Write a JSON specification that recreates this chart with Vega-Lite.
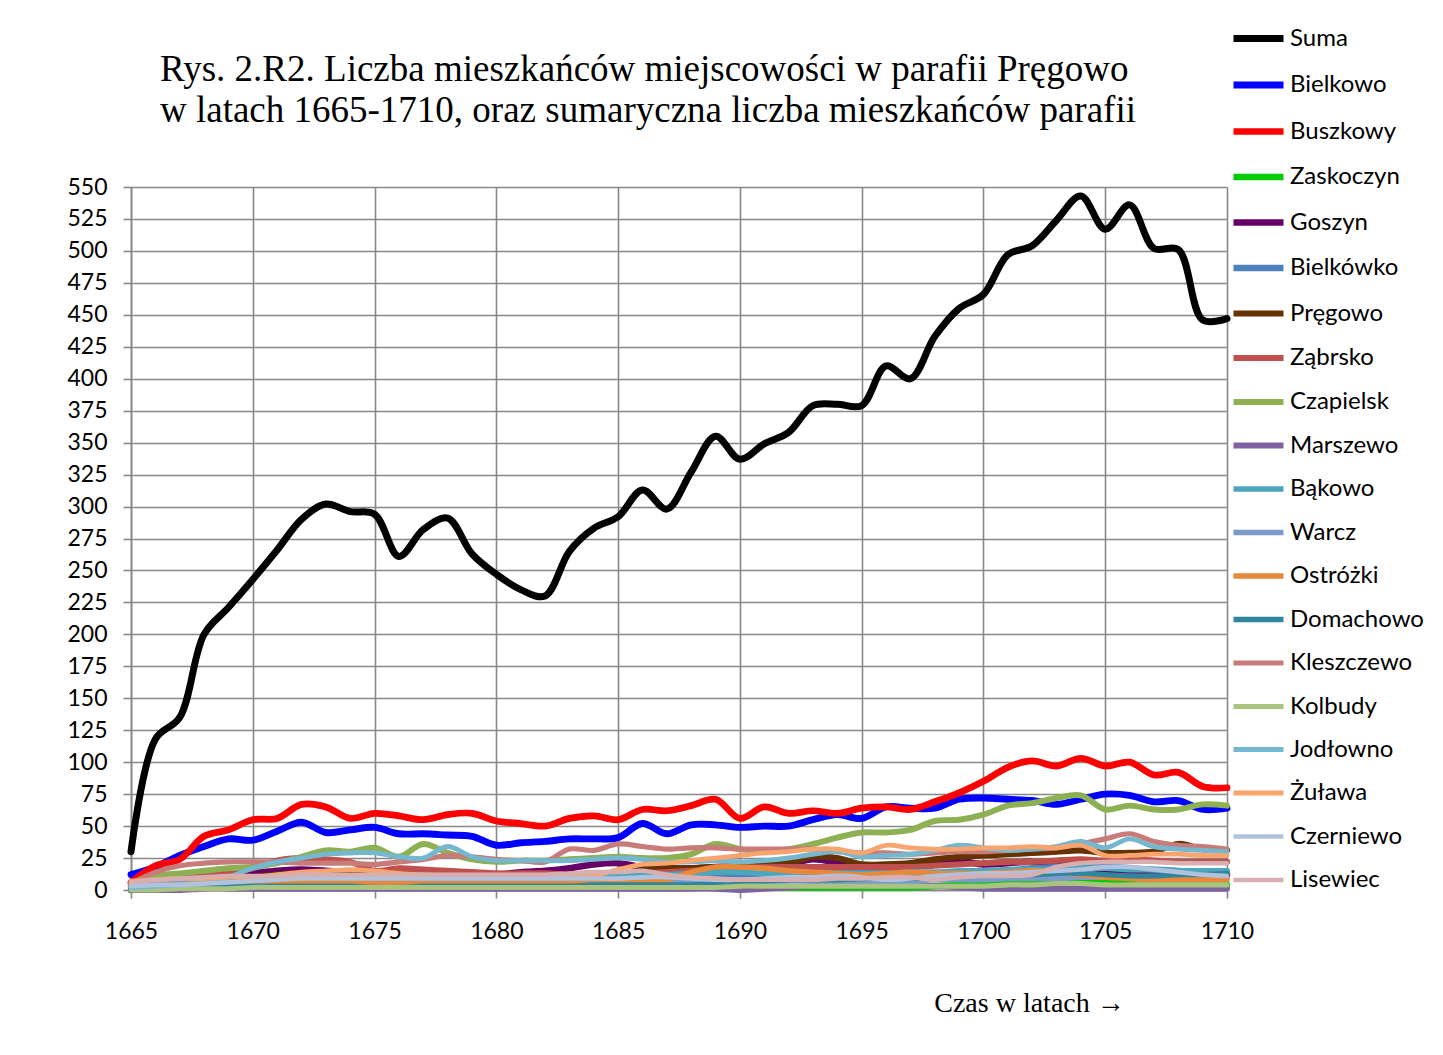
{"$schema":"https://vega.github.io/schema/vega-lite/v6.json","width":1096,"height":703,"autosize":{"type":"none"},"padding":{"left":131,"top":187,"right":216,"bottom":165},"background":"white",
"title":{"text":["Rys. 2.R2. Liczba mieszkańców miejscowości w parafii Pręgowo","w latach 1665-1710, oraz sumaryczna liczba mieszkańców parafii"],"anchor":"start","frame":"group","dx":29,"dy":201,"offset":52,"font":"Liberation Serif","fontSize":37,"fontWeight":"normal","color":"black","lineHeight":41,"baseline":"alphabetic"},
"datasets":{"d":[
{"r":1665,"s":"Suma","v":30},{"r":1666,"s":"Suma","v":118},{"r":1667,"s":"Suma","v":135},{"r":1668,"s":"Suma","v":200},{"r":1669,"s":"Suma","v":221},{"r":1670,"s":"Suma","v":243},{"r":1671,"s":"Suma","v":266},{"r":1672,"s":"Suma","v":290},{"r":1673,"s":"Suma","v":302},{"r":1674,"s":"Suma","v":296},{"r":1675,"s":"Suma","v":294},{"r":1676,"s":"Suma","v":261},{"r":1677,"s":"Suma","v":282},{"r":1678,"s":"Suma","v":291},{"r":1679,"s":"Suma","v":263},{"r":1680,"s":"Suma","v":247},{"r":1681,"s":"Suma","v":235},{"r":1682,"s":"Suma","v":230},{"r":1683,"s":"Suma","v":265},{"r":1684,"s":"Suma","v":283},{"r":1685,"s":"Suma","v":292},{"r":1686,"s":"Suma","v":313},{"r":1687,"s":"Suma","v":298},{"r":1688,"s":"Suma","v":327},{"r":1689,"s":"Suma","v":355},{"r":1690,"s":"Suma","v":337},{"r":1691,"s":"Suma","v":349},{"r":1692,"s":"Suma","v":358},{"r":1693,"s":"Suma","v":379},{"r":1694,"s":"Suma","v":380},{"r":1695,"s":"Suma","v":379},{"r":1696,"s":"Suma","v":410},{"r":1697,"s":"Suma","v":400},{"r":1698,"s":"Suma","v":433},{"r":1699,"s":"Suma","v":455},{"r":1700,"s":"Suma","v":466},{"r":1701,"s":"Suma","v":497},{"r":1702,"s":"Suma","v":504},{"r":1703,"s":"Suma","v":524},{"r":1704,"s":"Suma","v":543},{"r":1705,"s":"Suma","v":517},{"r":1706,"s":"Suma","v":536},{"r":1707,"s":"Suma","v":502},{"r":1708,"s":"Suma","v":501},{"r":1709,"s":"Suma","v":446},{"r":1710,"s":"Suma","v":447},
{"r":1665,"s":"Bielkowo","v":12},{"r":1666,"s":"Bielkowo","v":18},{"r":1667,"s":"Bielkowo","v":27},{"r":1668,"s":"Bielkowo","v":34},{"r":1669,"s":"Bielkowo","v":40},{"r":1670,"s":"Bielkowo","v":39},{"r":1671,"s":"Bielkowo","v":46},{"r":1672,"s":"Bielkowo","v":53},{"r":1673,"s":"Bielkowo","v":45},{"r":1674,"s":"Bielkowo","v":47},{"r":1675,"s":"Bielkowo","v":49},{"r":1676,"s":"Bielkowo","v":44},{"r":1677,"s":"Bielkowo","v":44},{"r":1678,"s":"Bielkowo","v":43},{"r":1679,"s":"Bielkowo","v":42},{"r":1680,"s":"Bielkowo","v":35},{"r":1681,"s":"Bielkowo","v":37},{"r":1682,"s":"Bielkowo","v":38},{"r":1683,"s":"Bielkowo","v":40},{"r":1684,"s":"Bielkowo","v":40},{"r":1685,"s":"Bielkowo","v":41},{"r":1686,"s":"Bielkowo","v":52},{"r":1687,"s":"Bielkowo","v":44},{"r":1688,"s":"Bielkowo","v":51},{"r":1689,"s":"Bielkowo","v":51},{"r":1690,"s":"Bielkowo","v":49},{"r":1691,"s":"Bielkowo","v":50},{"r":1692,"s":"Bielkowo","v":50},{"r":1693,"s":"Bielkowo","v":55},{"r":1694,"s":"Bielkowo","v":59},{"r":1695,"s":"Bielkowo","v":56},{"r":1696,"s":"Bielkowo","v":65},{"r":1697,"s":"Bielkowo","v":64},{"r":1698,"s":"Bielkowo","v":64},{"r":1699,"s":"Bielkowo","v":71},{"r":1700,"s":"Bielkowo","v":72},{"r":1701,"s":"Bielkowo","v":71},{"r":1702,"s":"Bielkowo","v":70},{"r":1703,"s":"Bielkowo","v":67},{"r":1704,"s":"Bielkowo","v":71},{"r":1705,"s":"Bielkowo","v":75},{"r":1706,"s":"Bielkowo","v":74},{"r":1707,"s":"Bielkowo","v":69},{"r":1708,"s":"Bielkowo","v":70},{"r":1709,"s":"Bielkowo","v":63},{"r":1710,"s":"Bielkowo","v":64},
{"r":1665,"s":"Buszkowy","v":6},{"r":1666,"s":"Buszkowy","v":19},{"r":1667,"s":"Buszkowy","v":24},{"r":1668,"s":"Buszkowy","v":42},{"r":1669,"s":"Buszkowy","v":47},{"r":1670,"s":"Buszkowy","v":55},{"r":1671,"s":"Buszkowy","v":56},{"r":1672,"s":"Buszkowy","v":67},{"r":1673,"s":"Buszkowy","v":65},{"r":1674,"s":"Buszkowy","v":56},{"r":1675,"s":"Buszkowy","v":60},{"r":1676,"s":"Buszkowy","v":58},{"r":1677,"s":"Buszkowy","v":55},{"r":1678,"s":"Buszkowy","v":59},{"r":1679,"s":"Buszkowy","v":60},{"r":1680,"s":"Buszkowy","v":54},{"r":1681,"s":"Buszkowy","v":52},{"r":1682,"s":"Buszkowy","v":50},{"r":1683,"s":"Buszkowy","v":56},{"r":1684,"s":"Buszkowy","v":58},{"r":1685,"s":"Buszkowy","v":55},{"r":1686,"s":"Buszkowy","v":63},{"r":1687,"s":"Buszkowy","v":62},{"r":1688,"s":"Buszkowy","v":66},{"r":1689,"s":"Buszkowy","v":71},{"r":1690,"s":"Buszkowy","v":56},{"r":1691,"s":"Buszkowy","v":65},{"r":1692,"s":"Buszkowy","v":60},{"r":1693,"s":"Buszkowy","v":62},{"r":1694,"s":"Buszkowy","v":60},{"r":1695,"s":"Buszkowy","v":64},{"r":1696,"s":"Buszkowy","v":65},{"r":1697,"s":"Buszkowy","v":63},{"r":1698,"s":"Buszkowy","v":69},{"r":1699,"s":"Buszkowy","v":76},{"r":1700,"s":"Buszkowy","v":85},{"r":1701,"s":"Buszkowy","v":96},{"r":1702,"s":"Buszkowy","v":101},{"r":1703,"s":"Buszkowy","v":97},{"r":1704,"s":"Buszkowy","v":103},{"r":1705,"s":"Buszkowy","v":97},{"r":1706,"s":"Buszkowy","v":100},{"r":1707,"s":"Buszkowy","v":90},{"r":1708,"s":"Buszkowy","v":92},{"r":1709,"s":"Buszkowy","v":81},{"r":1710,"s":"Buszkowy","v":80},
{"r":1665,"s":"Zaskoczyn","v":0},{"r":1666,"s":"Zaskoczyn","v":1},{"r":1667,"s":"Zaskoczyn","v":1},{"r":1668,"s":"Zaskoczyn","v":2},{"r":1669,"s":"Zaskoczyn","v":2},{"r":1670,"s":"Zaskoczyn","v":3},{"r":1671,"s":"Zaskoczyn","v":4},{"r":1672,"s":"Zaskoczyn","v":4},{"r":1673,"s":"Zaskoczyn","v":3},{"r":1674,"s":"Zaskoczyn","v":2},{"r":1675,"s":"Zaskoczyn","v":2},{"r":1676,"s":"Zaskoczyn","v":2},{"r":1677,"s":"Zaskoczyn","v":3},{"r":1678,"s":"Zaskoczyn","v":4},{"r":1679,"s":"Zaskoczyn","v":3},{"r":1680,"s":"Zaskoczyn","v":3},{"r":1681,"s":"Zaskoczyn","v":3},{"r":1682,"s":"Zaskoczyn","v":3},{"r":1683,"s":"Zaskoczyn","v":2},{"r":1684,"s":"Zaskoczyn","v":2},{"r":1685,"s":"Zaskoczyn","v":2},{"r":1686,"s":"Zaskoczyn","v":2},{"r":1687,"s":"Zaskoczyn","v":2},{"r":1688,"s":"Zaskoczyn","v":2},{"r":1689,"s":"Zaskoczyn","v":2},{"r":1690,"s":"Zaskoczyn","v":2},{"r":1691,"s":"Zaskoczyn","v":2},{"r":1692,"s":"Zaskoczyn","v":2},{"r":1693,"s":"Zaskoczyn","v":2},{"r":1694,"s":"Zaskoczyn","v":2},{"r":1695,"s":"Zaskoczyn","v":2},{"r":1696,"s":"Zaskoczyn","v":2},{"r":1697,"s":"Zaskoczyn","v":2},{"r":1698,"s":"Zaskoczyn","v":3},{"r":1699,"s":"Zaskoczyn","v":4},{"r":1700,"s":"Zaskoczyn","v":5},{"r":1701,"s":"Zaskoczyn","v":5},{"r":1702,"s":"Zaskoczyn","v":5},{"r":1703,"s":"Zaskoczyn","v":6},{"r":1704,"s":"Zaskoczyn","v":6},{"r":1705,"s":"Zaskoczyn","v":6},{"r":1706,"s":"Zaskoczyn","v":7},{"r":1707,"s":"Zaskoczyn","v":5},{"r":1708,"s":"Zaskoczyn","v":4},{"r":1709,"s":"Zaskoczyn","v":4},{"r":1710,"s":"Zaskoczyn","v":4},
{"r":1665,"s":"Goszyn","v":4},{"r":1666,"s":"Goszyn","v":7},{"r":1667,"s":"Goszyn","v":8},{"r":1668,"s":"Goszyn","v":10},{"r":1669,"s":"Goszyn","v":11},{"r":1670,"s":"Goszyn","v":13},{"r":1671,"s":"Goszyn","v":15},{"r":1672,"s":"Goszyn","v":16},{"r":1673,"s":"Goszyn","v":15},{"r":1674,"s":"Goszyn","v":14},{"r":1675,"s":"Goszyn","v":12},{"r":1676,"s":"Goszyn","v":11},{"r":1677,"s":"Goszyn","v":11},{"r":1678,"s":"Goszyn","v":11},{"r":1679,"s":"Goszyn","v":11},{"r":1680,"s":"Goszyn","v":12},{"r":1681,"s":"Goszyn","v":14},{"r":1682,"s":"Goszyn","v":15},{"r":1683,"s":"Goszyn","v":17},{"r":1684,"s":"Goszyn","v":20},{"r":1685,"s":"Goszyn","v":21},{"r":1686,"s":"Goszyn","v":18},{"r":1687,"s":"Goszyn","v":17},{"r":1688,"s":"Goszyn","v":17},{"r":1689,"s":"Goszyn","v":18},{"r":1690,"s":"Goszyn","v":18},{"r":1691,"s":"Goszyn","v":19},{"r":1692,"s":"Goszyn","v":20},{"r":1693,"s":"Goszyn","v":24},{"r":1694,"s":"Goszyn","v":21},{"r":1695,"s":"Goszyn","v":17},{"r":1696,"s":"Goszyn","v":17},{"r":1697,"s":"Goszyn","v":19},{"r":1698,"s":"Goszyn","v":23},{"r":1699,"s":"Goszyn","v":23},{"r":1700,"s":"Goszyn","v":20},{"r":1701,"s":"Goszyn","v":21},{"r":1702,"s":"Goszyn","v":22},{"r":1703,"s":"Goszyn","v":20},{"r":1704,"s":"Goszyn","v":18},{"r":1705,"s":"Goszyn","v":16},{"r":1706,"s":"Goszyn","v":14},{"r":1707,"s":"Goszyn","v":13},{"r":1708,"s":"Goszyn","v":12},{"r":1709,"s":"Goszyn","v":12},{"r":1710,"s":"Goszyn","v":12},
{"r":1665,"s":"Bielkówko","v":2},{"r":1666,"s":"Bielkówko","v":3},{"r":1667,"s":"Bielkówko","v":4},{"r":1668,"s":"Bielkówko","v":5},{"r":1669,"s":"Bielkówko","v":5},{"r":1670,"s":"Bielkówko","v":6},{"r":1671,"s":"Bielkówko","v":6},{"r":1672,"s":"Bielkówko","v":7},{"r":1673,"s":"Bielkówko","v":7},{"r":1674,"s":"Bielkówko","v":8},{"r":1675,"s":"Bielkówko","v":8},{"r":1676,"s":"Bielkówko","v":7},{"r":1677,"s":"Bielkówko","v":7},{"r":1678,"s":"Bielkówko","v":8},{"r":1679,"s":"Bielkówko","v":8},{"r":1680,"s":"Bielkówko","v":8},{"r":1681,"s":"Bielkówko","v":8},{"r":1682,"s":"Bielkówko","v":8},{"r":1683,"s":"Bielkówko","v":9},{"r":1684,"s":"Bielkówko","v":9},{"r":1685,"s":"Bielkówko","v":10},{"r":1686,"s":"Bielkówko","v":11},{"r":1687,"s":"Bielkówko","v":11},{"r":1688,"s":"Bielkówko","v":12},{"r":1689,"s":"Bielkówko","v":12},{"r":1690,"s":"Bielkówko","v":12},{"r":1691,"s":"Bielkówko","v":12},{"r":1692,"s":"Bielkówko","v":13},{"r":1693,"s":"Bielkówko","v":14},{"r":1694,"s":"Bielkówko","v":15},{"r":1695,"s":"Bielkówko","v":15},{"r":1696,"s":"Bielkówko","v":13},{"r":1697,"s":"Bielkówko","v":12},{"r":1698,"s":"Bielkówko","v":12},{"r":1699,"s":"Bielkówko","v":13},{"r":1700,"s":"Bielkówko","v":14},{"r":1701,"s":"Bielkówko","v":15},{"r":1702,"s":"Bielkówko","v":17},{"r":1703,"s":"Bielkówko","v":18},{"r":1704,"s":"Bielkówko","v":20},{"r":1705,"s":"Bielkówko","v":19},{"r":1706,"s":"Bielkówko","v":17},{"r":1707,"s":"Bielkówko","v":16},{"r":1708,"s":"Bielkówko","v":15},{"r":1709,"s":"Bielkówko","v":14},{"r":1710,"s":"Bielkówko","v":14},
{"r":1665,"s":"Pręgowo","v":3},{"r":1666,"s":"Pręgowo","v":5},{"r":1667,"s":"Pręgowo","v":7},{"r":1668,"s":"Pręgowo","v":8},{"r":1669,"s":"Pręgowo","v":9},{"r":1670,"s":"Pręgowo","v":10},{"r":1671,"s":"Pręgowo","v":12},{"r":1672,"s":"Pręgowo","v":13},{"r":1673,"s":"Pręgowo","v":13},{"r":1674,"s":"Pręgowo","v":14},{"r":1675,"s":"Pręgowo","v":14},{"r":1676,"s":"Pręgowo","v":13},{"r":1677,"s":"Pręgowo","v":13},{"r":1678,"s":"Pręgowo","v":13},{"r":1679,"s":"Pręgowo","v":13},{"r":1680,"s":"Pręgowo","v":12},{"r":1681,"s":"Pręgowo","v":12},{"r":1682,"s":"Pręgowo","v":12},{"r":1683,"s":"Pręgowo","v":11},{"r":1684,"s":"Pręgowo","v":10},{"r":1685,"s":"Pręgowo","v":10},{"r":1686,"s":"Pręgowo","v":16},{"r":1687,"s":"Pręgowo","v":17},{"r":1688,"s":"Pręgowo","v":17},{"r":1689,"s":"Pręgowo","v":18},{"r":1690,"s":"Pręgowo","v":19},{"r":1691,"s":"Pręgowo","v":20},{"r":1692,"s":"Pręgowo","v":21},{"r":1693,"s":"Pręgowo","v":26},{"r":1694,"s":"Pręgowo","v":25},{"r":1695,"s":"Pręgowo","v":20},{"r":1696,"s":"Pręgowo","v":20},{"r":1697,"s":"Pręgowo","v":21},{"r":1698,"s":"Pręgowo","v":24},{"r":1699,"s":"Pręgowo","v":26},{"r":1700,"s":"Pręgowo","v":27},{"r":1701,"s":"Pręgowo","v":28},{"r":1702,"s":"Pręgowo","v":29},{"r":1703,"s":"Pręgowo","v":30},{"r":1704,"s":"Pręgowo","v":31},{"r":1705,"s":"Pręgowo","v":29},{"r":1706,"s":"Pręgowo","v":29},{"r":1707,"s":"Pręgowo","v":30},{"r":1708,"s":"Pręgowo","v":36},{"r":1709,"s":"Pręgowo","v":32},{"r":1710,"s":"Pręgowo","v":31},
{"r":1665,"s":"Ząbrsko","v":4},{"r":1666,"s":"Ząbrsko","v":8},{"r":1667,"s":"Ząbrsko","v":10},{"r":1668,"s":"Ząbrsko","v":12},{"r":1669,"s":"Ząbrsko","v":14},{"r":1670,"s":"Ząbrsko","v":17},{"r":1671,"s":"Ząbrsko","v":23},{"r":1672,"s":"Ząbrsko","v":25},{"r":1673,"s":"Ząbrsko","v":24},{"r":1674,"s":"Ząbrsko","v":22},{"r":1675,"s":"Ząbrsko","v":15},{"r":1676,"s":"Ząbrsko","v":17},{"r":1677,"s":"Ząbrsko","v":16},{"r":1678,"s":"Ząbrsko","v":15},{"r":1679,"s":"Ząbrsko","v":14},{"r":1680,"s":"Ząbrsko","v":13},{"r":1681,"s":"Ząbrsko","v":13},{"r":1682,"s":"Ząbrsko","v":13},{"r":1683,"s":"Ząbrsko","v":12},{"r":1684,"s":"Ząbrsko","v":12},{"r":1685,"s":"Ząbrsko","v":12},{"r":1686,"s":"Ząbrsko","v":13},{"r":1687,"s":"Ząbrsko","v":14},{"r":1688,"s":"Ząbrsko","v":15},{"r":1689,"s":"Ząbrsko","v":16},{"r":1690,"s":"Ząbrsko","v":17},{"r":1691,"s":"Ząbrsko","v":18},{"r":1692,"s":"Ząbrsko","v":18},{"r":1693,"s":"Ząbrsko","v":18},{"r":1694,"s":"Ząbrsko","v":18},{"r":1695,"s":"Ząbrsko","v":18},{"r":1696,"s":"Ząbrsko","v":18},{"r":1697,"s":"Ząbrsko","v":18},{"r":1698,"s":"Ząbrsko","v":19},{"r":1699,"s":"Ząbrsko","v":20},{"r":1700,"s":"Ząbrsko","v":21},{"r":1701,"s":"Ząbrsko","v":22},{"r":1702,"s":"Ząbrsko","v":22},{"r":1703,"s":"Ząbrsko","v":23},{"r":1704,"s":"Ząbrsko","v":24},{"r":1705,"s":"Ząbrsko","v":23},{"r":1706,"s":"Ząbrsko","v":24},{"r":1707,"s":"Ząbrsko","v":23},{"r":1708,"s":"Ząbrsko","v":22},{"r":1709,"s":"Ząbrsko","v":22},{"r":1710,"s":"Ząbrsko","v":22},
{"r":1665,"s":"Czapielsk","v":5},{"r":1666,"s":"Czapielsk","v":11},{"r":1667,"s":"Czapielsk","v":13},{"r":1668,"s":"Czapielsk","v":15},{"r":1669,"s":"Czapielsk","v":17},{"r":1670,"s":"Czapielsk","v":18},{"r":1671,"s":"Czapielsk","v":21},{"r":1672,"s":"Czapielsk","v":26},{"r":1673,"s":"Czapielsk","v":31},{"r":1674,"s":"Czapielsk","v":30},{"r":1675,"s":"Czapielsk","v":33},{"r":1676,"s":"Czapielsk","v":26},{"r":1677,"s":"Czapielsk","v":36},{"r":1678,"s":"Czapielsk","v":29},{"r":1679,"s":"Czapielsk","v":24},{"r":1680,"s":"Czapielsk","v":22},{"r":1681,"s":"Czapielsk","v":23},{"r":1682,"s":"Czapielsk","v":23},{"r":1683,"s":"Czapielsk","v":24},{"r":1684,"s":"Czapielsk","v":25},{"r":1685,"s":"Czapielsk","v":26},{"r":1686,"s":"Czapielsk","v":25},{"r":1687,"s":"Czapielsk","v":25},{"r":1688,"s":"Czapielsk","v":28},{"r":1689,"s":"Czapielsk","v":36},{"r":1690,"s":"Czapielsk","v":32},{"r":1691,"s":"Czapielsk","v":30},{"r":1692,"s":"Czapielsk","v":32},{"r":1693,"s":"Czapielsk","v":36},{"r":1694,"s":"Czapielsk","v":41},{"r":1695,"s":"Czapielsk","v":45},{"r":1696,"s":"Czapielsk","v":45},{"r":1697,"s":"Czapielsk","v":47},{"r":1698,"s":"Czapielsk","v":54},{"r":1699,"s":"Czapielsk","v":55},{"r":1700,"s":"Czapielsk","v":59},{"r":1701,"s":"Czapielsk","v":66},{"r":1702,"s":"Czapielsk","v":68},{"r":1703,"s":"Czapielsk","v":72},{"r":1704,"s":"Czapielsk","v":74},{"r":1705,"s":"Czapielsk","v":63},{"r":1706,"s":"Czapielsk","v":66},{"r":1707,"s":"Czapielsk","v":63},{"r":1708,"s":"Czapielsk","v":63},{"r":1709,"s":"Czapielsk","v":67},{"r":1710,"s":"Czapielsk","v":66},
{"r":1665,"s":"Marszewo","v":0},{"r":1666,"s":"Marszewo","v":0},{"r":1667,"s":"Marszewo","v":0},{"r":1668,"s":"Marszewo","v":1},{"r":1669,"s":"Marszewo","v":1},{"r":1670,"s":"Marszewo","v":1},{"r":1671,"s":"Marszewo","v":1},{"r":1672,"s":"Marszewo","v":1},{"r":1673,"s":"Marszewo","v":1},{"r":1674,"s":"Marszewo","v":1},{"r":1675,"s":"Marszewo","v":1},{"r":1676,"s":"Marszewo","v":1},{"r":1677,"s":"Marszewo","v":1},{"r":1678,"s":"Marszewo","v":1},{"r":1679,"s":"Marszewo","v":1},{"r":1680,"s":"Marszewo","v":1},{"r":1681,"s":"Marszewo","v":1},{"r":1682,"s":"Marszewo","v":1},{"r":1683,"s":"Marszewo","v":1},{"r":1684,"s":"Marszewo","v":1},{"r":1685,"s":"Marszewo","v":1},{"r":1686,"s":"Marszewo","v":1},{"r":1687,"s":"Marszewo","v":1},{"r":1688,"s":"Marszewo","v":1},{"r":1689,"s":"Marszewo","v":1},{"r":1690,"s":"Marszewo","v":0},{"r":1691,"s":"Marszewo","v":1},{"r":1692,"s":"Marszewo","v":2},{"r":1693,"s":"Marszewo","v":3},{"r":1694,"s":"Marszewo","v":3},{"r":1695,"s":"Marszewo","v":3},{"r":1696,"s":"Marszewo","v":3},{"r":1697,"s":"Marszewo","v":3},{"r":1698,"s":"Marszewo","v":3},{"r":1699,"s":"Marszewo","v":2},{"r":1700,"s":"Marszewo","v":1},{"r":1701,"s":"Marszewo","v":1},{"r":1702,"s":"Marszewo","v":1},{"r":1703,"s":"Marszewo","v":1},{"r":1704,"s":"Marszewo","v":1},{"r":1705,"s":"Marszewo","v":1},{"r":1706,"s":"Marszewo","v":1},{"r":1707,"s":"Marszewo","v":1},{"r":1708,"s":"Marszewo","v":1},{"r":1709,"s":"Marszewo","v":1},{"r":1710,"s":"Marszewo","v":1},
{"r":1665,"s":"Bąkowo","v":2},{"r":1666,"s":"Bąkowo","v":4},{"r":1667,"s":"Bąkowo","v":6},{"r":1668,"s":"Bąkowo","v":7},{"r":1669,"s":"Bąkowo","v":8},{"r":1670,"s":"Bąkowo","v":9},{"r":1671,"s":"Bąkowo","v":9},{"r":1672,"s":"Bąkowo","v":10},{"r":1673,"s":"Bąkowo","v":10},{"r":1674,"s":"Bąkowo","v":11},{"r":1675,"s":"Bąkowo","v":11},{"r":1676,"s":"Bąkowo","v":10},{"r":1677,"s":"Bąkowo","v":10},{"r":1678,"s":"Bąkowo","v":10},{"r":1679,"s":"Bąkowo","v":10},{"r":1680,"s":"Bąkowo","v":9},{"r":1681,"s":"Bąkowo","v":9},{"r":1682,"s":"Bąkowo","v":9},{"r":1683,"s":"Bąkowo","v":10},{"r":1684,"s":"Bąkowo","v":11},{"r":1685,"s":"Bąkowo","v":11},{"r":1686,"s":"Bąkowo","v":12},{"r":1687,"s":"Bąkowo","v":12},{"r":1688,"s":"Bąkowo","v":13},{"r":1689,"s":"Bąkowo","v":14},{"r":1690,"s":"Bąkowo","v":14},{"r":1691,"s":"Bąkowo","v":13},{"r":1692,"s":"Bąkowo","v":13},{"r":1693,"s":"Bąkowo","v":13},{"r":1694,"s":"Bąkowo","v":13},{"r":1695,"s":"Bąkowo","v":13},{"r":1696,"s":"Bąkowo","v":13},{"r":1697,"s":"Bąkowo","v":14},{"r":1698,"s":"Bąkowo","v":14},{"r":1699,"s":"Bąkowo","v":15},{"r":1700,"s":"Bąkowo","v":15},{"r":1701,"s":"Bąkowo","v":16},{"r":1702,"s":"Bąkowo","v":16},{"r":1703,"s":"Bąkowo","v":16},{"r":1704,"s":"Bąkowo","v":17},{"r":1705,"s":"Bąkowo","v":17},{"r":1706,"s":"Bąkowo","v":16},{"r":1707,"s":"Bąkowo","v":16},{"r":1708,"s":"Bąkowo","v":15},{"r":1709,"s":"Bąkowo","v":15},{"r":1710,"s":"Bąkowo","v":15},
{"r":1665,"s":"Warcz","v":3},{"r":1666,"s":"Warcz","v":4},{"r":1667,"s":"Warcz","v":5},{"r":1668,"s":"Warcz","v":6},{"r":1669,"s":"Warcz","v":6},{"r":1670,"s":"Warcz","v":7},{"r":1671,"s":"Warcz","v":7},{"r":1672,"s":"Warcz","v":7},{"r":1673,"s":"Warcz","v":7},{"r":1674,"s":"Warcz","v":7},{"r":1675,"s":"Warcz","v":7},{"r":1676,"s":"Warcz","v":7},{"r":1677,"s":"Warcz","v":7},{"r":1678,"s":"Warcz","v":7},{"r":1679,"s":"Warcz","v":7},{"r":1680,"s":"Warcz","v":6},{"r":1681,"s":"Warcz","v":6},{"r":1682,"s":"Warcz","v":6},{"r":1683,"s":"Warcz","v":6},{"r":1684,"s":"Warcz","v":6},{"r":1685,"s":"Warcz","v":6},{"r":1686,"s":"Warcz","v":6},{"r":1687,"s":"Warcz","v":6},{"r":1688,"s":"Warcz","v":6},{"r":1689,"s":"Warcz","v":6},{"r":1690,"s":"Warcz","v":6},{"r":1691,"s":"Warcz","v":6},{"r":1692,"s":"Warcz","v":7},{"r":1693,"s":"Warcz","v":7},{"r":1694,"s":"Warcz","v":7},{"r":1695,"s":"Warcz","v":7},{"r":1696,"s":"Warcz","v":7},{"r":1697,"s":"Warcz","v":7},{"r":1698,"s":"Warcz","v":8},{"r":1699,"s":"Warcz","v":8},{"r":1700,"s":"Warcz","v":8},{"r":1701,"s":"Warcz","v":9},{"r":1702,"s":"Warcz","v":9},{"r":1703,"s":"Warcz","v":9},{"r":1704,"s":"Warcz","v":10},{"r":1705,"s":"Warcz","v":10},{"r":1706,"s":"Warcz","v":10},{"r":1707,"s":"Warcz","v":10},{"r":1708,"s":"Warcz","v":9},{"r":1709,"s":"Warcz","v":9},{"r":1710,"s":"Warcz","v":9},
{"r":1665,"s":"Ostróżki","v":2},{"r":1666,"s":"Ostróżki","v":3},{"r":1667,"s":"Ostróżki","v":4},{"r":1668,"s":"Ostróżki","v":5},{"r":1669,"s":"Ostróżki","v":5},{"r":1670,"s":"Ostróżki","v":5},{"r":1671,"s":"Ostróżki","v":5},{"r":1672,"s":"Ostróżki","v":6},{"r":1673,"s":"Ostróżki","v":6},{"r":1674,"s":"Ostróżki","v":6},{"r":1675,"s":"Ostróżki","v":5},{"r":1676,"s":"Ostróżki","v":5},{"r":1677,"s":"Ostróżki","v":5},{"r":1678,"s":"Ostróżki","v":5},{"r":1679,"s":"Ostróżki","v":5},{"r":1680,"s":"Ostróżki","v":5},{"r":1681,"s":"Ostróżki","v":5},{"r":1682,"s":"Ostróżki","v":5},{"r":1683,"s":"Ostróżki","v":5},{"r":1684,"s":"Ostróżki","v":5},{"r":1685,"s":"Ostróżki","v":6},{"r":1686,"s":"Ostróżki","v":6},{"r":1687,"s":"Ostróżki","v":8},{"r":1688,"s":"Ostróżki","v":14},{"r":1689,"s":"Ostróżki","v":18},{"r":1690,"s":"Ostróżki","v":18},{"r":1691,"s":"Ostróżki","v":17},{"r":1692,"s":"Ostróżki","v":15},{"r":1693,"s":"Ostróżki","v":14},{"r":1694,"s":"Ostróżki","v":13},{"r":1695,"s":"Ostróżki","v":12},{"r":1696,"s":"Ostróżki","v":13},{"r":1697,"s":"Ostróżki","v":14},{"r":1698,"s":"Ostróżki","v":13},{"r":1699,"s":"Ostróżki","v":13},{"r":1700,"s":"Ostróżki","v":13},{"r":1701,"s":"Ostróżki","v":14},{"r":1702,"s":"Ostróżki","v":15},{"r":1703,"s":"Ostróżki","v":14},{"r":1704,"s":"Ostróżki","v":12},{"r":1705,"s":"Ostróżki","v":10},{"r":1706,"s":"Ostróżki","v":9},{"r":1707,"s":"Ostróżki","v":8},{"r":1708,"s":"Ostróżki","v":8},{"r":1709,"s":"Ostróżki","v":8},{"r":1710,"s":"Ostróżki","v":8},
{"r":1665,"s":"Domachowo","v":1},{"r":1666,"s":"Domachowo","v":2},{"r":1667,"s":"Domachowo","v":2},{"r":1668,"s":"Domachowo","v":3},{"r":1669,"s":"Domachowo","v":3},{"r":1670,"s":"Domachowo","v":3},{"r":1671,"s":"Domachowo","v":3},{"r":1672,"s":"Domachowo","v":3},{"r":1673,"s":"Domachowo","v":3},{"r":1674,"s":"Domachowo","v":3},{"r":1675,"s":"Domachowo","v":2},{"r":1676,"s":"Domachowo","v":2},{"r":1677,"s":"Domachowo","v":3},{"r":1678,"s":"Domachowo","v":3},{"r":1679,"s":"Domachowo","v":3},{"r":1680,"s":"Domachowo","v":3},{"r":1681,"s":"Domachowo","v":3},{"r":1682,"s":"Domachowo","v":3},{"r":1683,"s":"Domachowo","v":3},{"r":1684,"s":"Domachowo","v":4},{"r":1685,"s":"Domachowo","v":4},{"r":1686,"s":"Domachowo","v":4},{"r":1687,"s":"Domachowo","v":4},{"r":1688,"s":"Domachowo","v":4},{"r":1689,"s":"Domachowo","v":5},{"r":1690,"s":"Domachowo","v":6},{"r":1691,"s":"Domachowo","v":7},{"r":1692,"s":"Domachowo","v":8},{"r":1693,"s":"Domachowo","v":8},{"r":1694,"s":"Domachowo","v":8},{"r":1695,"s":"Domachowo","v":9},{"r":1696,"s":"Domachowo","v":9},{"r":1697,"s":"Domachowo","v":9},{"r":1698,"s":"Domachowo","v":10},{"r":1699,"s":"Domachowo","v":11},{"r":1700,"s":"Domachowo","v":12},{"r":1701,"s":"Domachowo","v":12},{"r":1702,"s":"Domachowo","v":12},{"r":1703,"s":"Domachowo","v":13},{"r":1704,"s":"Domachowo","v":13},{"r":1705,"s":"Domachowo","v":12},{"r":1706,"s":"Domachowo","v":11},{"r":1707,"s":"Domachowo","v":11},{"r":1708,"s":"Domachowo","v":12},{"r":1709,"s":"Domachowo","v":12},{"r":1710,"s":"Domachowo","v":13},
{"r":1665,"s":"Kleszczewo","v":5},{"r":1666,"s":"Kleszczewo","v":14},{"r":1667,"s":"Kleszczewo","v":19},{"r":1668,"s":"Kleszczewo","v":21},{"r":1669,"s":"Kleszczewo","v":22},{"r":1670,"s":"Kleszczewo","v":22},{"r":1671,"s":"Kleszczewo","v":22},{"r":1672,"s":"Kleszczewo","v":21},{"r":1673,"s":"Kleszczewo","v":21},{"r":1674,"s":"Kleszczewo","v":21},{"r":1675,"s":"Kleszczewo","v":20},{"r":1676,"s":"Kleszczewo","v":22},{"r":1677,"s":"Kleszczewo","v":24},{"r":1678,"s":"Kleszczewo","v":27},{"r":1679,"s":"Kleszczewo","v":26},{"r":1680,"s":"Kleszczewo","v":24},{"r":1681,"s":"Kleszczewo","v":23},{"r":1682,"s":"Kleszczewo","v":22},{"r":1683,"s":"Kleszczewo","v":32},{"r":1684,"s":"Kleszczewo","v":31},{"r":1685,"s":"Kleszczewo","v":36},{"r":1686,"s":"Kleszczewo","v":34},{"r":1687,"s":"Kleszczewo","v":32},{"r":1688,"s":"Kleszczewo","v":33},{"r":1689,"s":"Kleszczewo","v":33},{"r":1690,"s":"Kleszczewo","v":32},{"r":1691,"s":"Kleszczewo","v":32},{"r":1692,"s":"Kleszczewo","v":32},{"r":1693,"s":"Kleszczewo","v":32},{"r":1694,"s":"Kleszczewo","v":30},{"r":1695,"s":"Kleszczewo","v":29},{"r":1696,"s":"Kleszczewo","v":29},{"r":1697,"s":"Kleszczewo","v":28},{"r":1698,"s":"Kleszczewo","v":29},{"r":1699,"s":"Kleszczewo","v":30},{"r":1700,"s":"Kleszczewo","v":30},{"r":1701,"s":"Kleszczewo","v":31},{"r":1702,"s":"Kleszczewo","v":32},{"r":1703,"s":"Kleszczewo","v":33},{"r":1704,"s":"Kleszczewo","v":36},{"r":1705,"s":"Kleszczewo","v":40},{"r":1706,"s":"Kleszczewo","v":44},{"r":1707,"s":"Kleszczewo","v":38},{"r":1708,"s":"Kleszczewo","v":35},{"r":1709,"s":"Kleszczewo","v":34},{"r":1710,"s":"Kleszczewo","v":32},
{"r":1665,"s":"Kolbudy","v":0},{"r":1666,"s":"Kolbudy","v":0},{"r":1667,"s":"Kolbudy","v":1},{"r":1668,"s":"Kolbudy","v":1},{"r":1669,"s":"Kolbudy","v":1},{"r":1670,"s":"Kolbudy","v":2},{"r":1671,"s":"Kolbudy","v":2},{"r":1672,"s":"Kolbudy","v":2},{"r":1673,"s":"Kolbudy","v":2},{"r":1674,"s":"Kolbudy","v":2},{"r":1675,"s":"Kolbudy","v":2},{"r":1676,"s":"Kolbudy","v":2},{"r":1677,"s":"Kolbudy","v":2},{"r":1678,"s":"Kolbudy","v":2},{"r":1679,"s":"Kolbudy","v":2},{"r":1680,"s":"Kolbudy","v":2},{"r":1681,"s":"Kolbudy","v":2},{"r":1682,"s":"Kolbudy","v":2},{"r":1683,"s":"Kolbudy","v":2},{"r":1684,"s":"Kolbudy","v":2},{"r":1685,"s":"Kolbudy","v":2},{"r":1686,"s":"Kolbudy","v":2},{"r":1687,"s":"Kolbudy","v":2},{"r":1688,"s":"Kolbudy","v":2},{"r":1689,"s":"Kolbudy","v":2},{"r":1690,"s":"Kolbudy","v":3},{"r":1691,"s":"Kolbudy","v":3},{"r":1692,"s":"Kolbudy","v":3},{"r":1693,"s":"Kolbudy","v":3},{"r":1694,"s":"Kolbudy","v":3},{"r":1695,"s":"Kolbudy","v":3},{"r":1696,"s":"Kolbudy","v":3},{"r":1697,"s":"Kolbudy","v":3},{"r":1698,"s":"Kolbudy","v":3},{"r":1699,"s":"Kolbudy","v":3},{"r":1700,"s":"Kolbudy","v":3},{"r":1701,"s":"Kolbudy","v":4},{"r":1702,"s":"Kolbudy","v":4},{"r":1703,"s":"Kolbudy","v":5},{"r":1704,"s":"Kolbudy","v":5},{"r":1705,"s":"Kolbudy","v":4},{"r":1706,"s":"Kolbudy","v":4},{"r":1707,"s":"Kolbudy","v":4},{"r":1708,"s":"Kolbudy","v":4},{"r":1709,"s":"Kolbudy","v":4},{"r":1710,"s":"Kolbudy","v":4},
{"r":1665,"s":"Jodłowno","v":2},{"r":1666,"s":"Jodłowno","v":3},{"r":1667,"s":"Jodłowno","v":4},{"r":1668,"s":"Jodłowno","v":6},{"r":1669,"s":"Jodłowno","v":10},{"r":1670,"s":"Jodłowno","v":17},{"r":1671,"s":"Jodłowno","v":22},{"r":1672,"s":"Jodłowno","v":25},{"r":1673,"s":"Jodłowno","v":28},{"r":1674,"s":"Jodłowno","v":29},{"r":1675,"s":"Jodłowno","v":29},{"r":1676,"s":"Jodłowno","v":26},{"r":1677,"s":"Jodłowno","v":25},{"r":1678,"s":"Jodłowno","v":34},{"r":1679,"s":"Jodłowno","v":26},{"r":1680,"s":"Jodłowno","v":23},{"r":1681,"s":"Jodłowno","v":23},{"r":1682,"s":"Jodłowno","v":23},{"r":1683,"s":"Jodłowno","v":23},{"r":1684,"s":"Jodłowno","v":24},{"r":1685,"s":"Jodłowno","v":25},{"r":1686,"s":"Jodłowno","v":24},{"r":1687,"s":"Jodłowno","v":22},{"r":1688,"s":"Jodłowno","v":22},{"r":1689,"s":"Jodłowno","v":23},{"r":1690,"s":"Jodłowno","v":22},{"r":1691,"s":"Jodłowno","v":23},{"r":1692,"s":"Jodłowno","v":25},{"r":1693,"s":"Jodłowno","v":28},{"r":1694,"s":"Jodłowno","v":30},{"r":1695,"s":"Jodłowno","v":26},{"r":1696,"s":"Jodłowno","v":27},{"r":1697,"s":"Jodłowno","v":28},{"r":1698,"s":"Jodłowno","v":31},{"r":1699,"s":"Jodłowno","v":35},{"r":1700,"s":"Jodłowno","v":33},{"r":1701,"s":"Jodłowno","v":31},{"r":1702,"s":"Jodłowno","v":32},{"r":1703,"s":"Jodłowno","v":34},{"r":1704,"s":"Jodłowno","v":38},{"r":1705,"s":"Jodłowno","v":33},{"r":1706,"s":"Jodłowno","v":40},{"r":1707,"s":"Jodłowno","v":34},{"r":1708,"s":"Jodłowno","v":32},{"r":1709,"s":"Jodłowno","v":31},{"r":1710,"s":"Jodłowno","v":30},
{"r":1665,"s":"Żuława","v":7},{"r":1666,"s":"Żuława","v":8},{"r":1667,"s":"Żuława","v":9},{"r":1668,"s":"Żuława","v":9},{"r":1669,"s":"Żuława","v":10},{"r":1670,"s":"Żuława","v":10},{"r":1671,"s":"Żuława","v":12},{"r":1672,"s":"Żuława","v":14},{"r":1673,"s":"Żuława","v":15},{"r":1674,"s":"Żuława","v":16},{"r":1675,"s":"Żuława","v":15},{"r":1676,"s":"Żuława","v":13},{"r":1677,"s":"Żuława","v":12},{"r":1678,"s":"Żuława","v":11},{"r":1679,"s":"Żuława","v":11},{"r":1680,"s":"Żuława","v":10},{"r":1681,"s":"Żuława","v":10},{"r":1682,"s":"Żuława","v":10},{"r":1683,"s":"Żuława","v":10},{"r":1684,"s":"Żuława","v":11},{"r":1685,"s":"Żuława","v":16},{"r":1686,"s":"Żuława","v":20},{"r":1687,"s":"Żuława","v":21},{"r":1688,"s":"Żuława","v":23},{"r":1689,"s":"Żuława","v":25},{"r":1690,"s":"Żuława","v":27},{"r":1691,"s":"Żuława","v":29},{"r":1692,"s":"Żuława","v":30},{"r":1693,"s":"Żuława","v":32},{"r":1694,"s":"Żuława","v":32},{"r":1695,"s":"Żuława","v":29},{"r":1696,"s":"Żuława","v":35},{"r":1697,"s":"Żuława","v":33},{"r":1698,"s":"Żuława","v":32},{"r":1699,"s":"Żuława","v":32},{"r":1700,"s":"Żuława","v":33},{"r":1701,"s":"Żuława","v":33},{"r":1702,"s":"Żuława","v":34},{"r":1703,"s":"Żuława","v":33},{"r":1704,"s":"Żuława","v":35},{"r":1705,"s":"Żuława","v":27},{"r":1706,"s":"Żuława","v":27},{"r":1707,"s":"Żuława","v":28},{"r":1708,"s":"Żuława","v":28},{"r":1709,"s":"Żuława","v":27},{"r":1710,"s":"Żuława","v":27},
{"r":1665,"s":"Czerniewo","v":3},{"r":1666,"s":"Czerniewo","v":4},{"r":1667,"s":"Czerniewo","v":4},{"r":1668,"s":"Czerniewo","v":5},{"r":1669,"s":"Czerniewo","v":6},{"r":1670,"s":"Czerniewo","v":7},{"r":1671,"s":"Czerniewo","v":8},{"r":1672,"s":"Czerniewo","v":9},{"r":1673,"s":"Czerniewo","v":9},{"r":1674,"s":"Czerniewo","v":9},{"r":1675,"s":"Czerniewo","v":9},{"r":1676,"s":"Czerniewo","v":9},{"r":1677,"s":"Czerniewo","v":9},{"r":1678,"s":"Czerniewo","v":9},{"r":1679,"s":"Czerniewo","v":9},{"r":1680,"s":"Czerniewo","v":9},{"r":1681,"s":"Czerniewo","v":9},{"r":1682,"s":"Czerniewo","v":9},{"r":1683,"s":"Czerniewo","v":9},{"r":1684,"s":"Czerniewo","v":9},{"r":1685,"s":"Czerniewo","v":9},{"r":1686,"s":"Czerniewo","v":10},{"r":1687,"s":"Czerniewo","v":10},{"r":1688,"s":"Czerniewo","v":9},{"r":1689,"s":"Czerniewo","v":8},{"r":1690,"s":"Czerniewo","v":8},{"r":1691,"s":"Czerniewo","v":9},{"r":1692,"s":"Czerniewo","v":10},{"r":1693,"s":"Czerniewo","v":10},{"r":1694,"s":"Czerniewo","v":11},{"r":1695,"s":"Czerniewo","v":10},{"r":1696,"s":"Czerniewo","v":8},{"r":1697,"s":"Czerniewo","v":9},{"r":1698,"s":"Czerniewo","v":11},{"r":1699,"s":"Czerniewo","v":12},{"r":1700,"s":"Czerniewo","v":13},{"r":1701,"s":"Czerniewo","v":13},{"r":1702,"s":"Czerniewo","v":14},{"r":1703,"s":"Czerniewo","v":15},{"r":1704,"s":"Czerniewo","v":16},{"r":1705,"s":"Czerniewo","v":18},{"r":1706,"s":"Czerniewo","v":18},{"r":1707,"s":"Czerniewo","v":16},{"r":1708,"s":"Czerniewo","v":14},{"r":1709,"s":"Czerniewo","v":12},{"r":1710,"s":"Czerniewo","v":11},
{"r":1665,"s":"Lisewiec","v":6},{"r":1666,"s":"Lisewiec","v":8},{"r":1667,"s":"Lisewiec","v":9},{"r":1668,"s":"Lisewiec","v":10},{"r":1669,"s":"Lisewiec","v":11},{"r":1670,"s":"Lisewiec","v":11},{"r":1671,"s":"Lisewiec","v":11},{"r":1672,"s":"Lisewiec","v":12},{"r":1673,"s":"Lisewiec","v":12},{"r":1674,"s":"Lisewiec","v":12},{"r":1675,"s":"Lisewiec","v":12},{"r":1676,"s":"Lisewiec","v":12},{"r":1677,"s":"Lisewiec","v":12},{"r":1678,"s":"Lisewiec","v":12},{"r":1679,"s":"Lisewiec","v":12},{"r":1680,"s":"Lisewiec","v":12},{"r":1681,"s":"Lisewiec","v":12},{"r":1682,"s":"Lisewiec","v":12},{"r":1683,"s":"Lisewiec","v":13},{"r":1684,"s":"Lisewiec","v":14},{"r":1685,"s":"Lisewiec","v":14},{"r":1686,"s":"Lisewiec","v":15},{"r":1687,"s":"Lisewiec","v":12},{"r":1688,"s":"Lisewiec","v":10},{"r":1689,"s":"Lisewiec","v":9},{"r":1690,"s":"Lisewiec","v":8},{"r":1691,"s":"Lisewiec","v":8},{"r":1692,"s":"Lisewiec","v":8},{"r":1693,"s":"Lisewiec","v":8},{"r":1694,"s":"Lisewiec","v":9},{"r":1695,"s":"Lisewiec","v":9},{"r":1696,"s":"Lisewiec","v":10},{"r":1697,"s":"Lisewiec","v":10},{"r":1698,"s":"Lisewiec","v":8},{"r":1699,"s":"Lisewiec","v":10},{"r":1700,"s":"Lisewiec","v":11},{"r":1701,"s":"Lisewiec","v":11},{"r":1702,"s":"Lisewiec","v":12},{"r":1703,"s":"Lisewiec","v":18},{"r":1704,"s":"Lisewiec","v":21},{"r":1705,"s":"Lisewiec","v":22},{"r":1706,"s":"Lisewiec","v":22},{"r":1707,"s":"Lisewiec","v":22},{"r":1708,"s":"Lisewiec","v":21},{"r":1709,"s":"Lisewiec","v":21},{"r":1710,"s":"Lisewiec","v":21}
]},
"data":{"name":"d"},
"mark":{"type":"line","interpolate":"catmull-rom","strokeCap":"round","strokeJoin":"round"},
"encoding":{
"x":{"field":"r","type":"quantitative","scale":{"domain":[1665,1710],"nice":false,"zero":false},"axis":{"values":[1665,1670,1675,1680,1685,1690,1695,1700,1705,1710],"format":"d","grid":true,"gridColor":"#888888","gridWidth":1.6,"domainColor":"#888888","domainWidth":1.6,"tickColor":"#888888","tickWidth":1.6,"tickSize":8,"labelFont":"Lato","labelFontSize":23,"labelColor":"black","labelPadding":22,"labelFlush":false,"title":"Czas w latach →","titleFont":"Liberation Serif","titleFontSize":28,"titleFontWeight":"normal","titleColor":"black","titleX":898,"titleY":121,"titleAlign":"center","titleBaseline":"alphabetic","titleAnchor":null}},
"y":{"field":"v","type":"quantitative","scale":{"domain":[0,550],"nice":false},"axis":{"values":[0,25,50,75,100,125,150,175,200,225,250,275,300,325,350,375,400,425,450,475,500,525,550],"grid":true,"gridColor":"#888888","gridWidth":1.6,"domainColor":"#888888","domainWidth":1.6,"tickColor":"#888888","tickWidth":1.6,"tickSize":8,"labelFont":"Lato","labelFontSize":23,"labelColor":"black","labelPadding":16,"labelFlush":false,"title":null}},
"color":{"field":"s","type":"nominal","sort":null,"scale":{"domain":["Suma","Bielkowo","Buszkowy","Zaskoczyn","Goszyn","Bielkówko","Pręgowo","Ząbrsko","Czapielsk","Marszewo","Bąkowo","Warcz","Ostróżki","Domachowo","Kleszczewo","Kolbudy","Jodłowno","Żuława","Czerniewo","Lisewiec"],"range":["#000000","#0000FF","#FF0000","#00CC00","#660066","#4F81BD","#663300","#C0504D","#8DB053","#7F62A0","#4BA6BE","#7B9BCB","#E8883A","#31859C","#C97B7A","#A9C47F","#74B7CF","#F7A46F","#B0C2DD","#D8AFB0"]},"legend":{"orient":"none","legendX":1099,"legendY":-177,"title":null,"symbolType":"stroke","symbolSize":2500,"symbolStrokeWidth":5,"labelFont":"Lato","labelFontSize":24,"labelColor":"black","labelOffset":3,"rowPadding":3.5,"labelLimit":300}},
"strokeWidth":{"field":"s","type":"nominal","scale":{"domain":["Suma","Bielkowo","Buszkowy","Zaskoczyn","Goszyn","Bielkówko","Pręgowo","Ząbrsko","Czapielsk","Marszewo","Bąkowo","Warcz","Ostróżki","Domachowo","Kleszczewo","Kolbudy","Jodłowno","Żuława","Czerniewo","Lisewiec"],"range":[7,4.5,4.5,4.5,4.5,4.5,4.5,4.5,4.5,4.5,4.5,4.5,4.5,4.5,4.5,4.5,4.5,4.5,4.5,4.5]},"legend":null}
},
"config":{"view":{"stroke":null}}
}
